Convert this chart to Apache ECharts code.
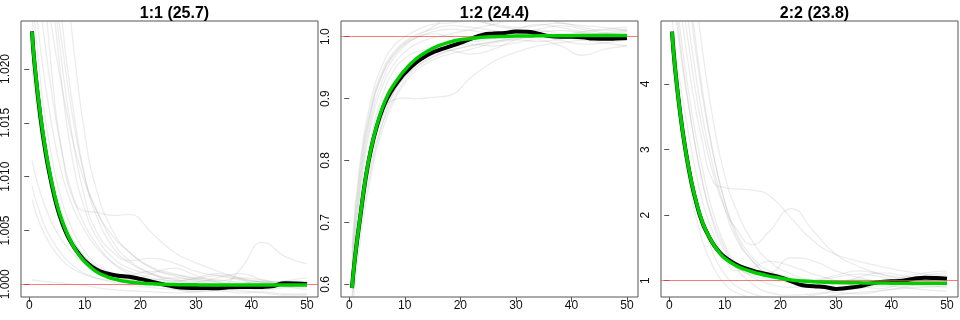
<!DOCTYPE html>
<html>
<head>
<meta charset="utf-8">
<script src="https://cdn.jsdelivr.net/npm/echarts@6/dist/echarts.min.js"></script>
<style>
  html, body { margin: 0; padding: 0; background: #fff; }
  #chart_box { width: 960px; height: 320px; }
</style>
</head>
<body>
<div id="chart_box"></div>
<script>
// panel titles
var titles = ['1:1 (25.7)', '1:2 (24.4)', '2:2 (23.8)'];

// x positions of the mean / fitted curves and of the single runs
var xFit = [0.5, 1, 2, 3, 4, 5, 6, 7, 8, 9, 10, 12, 14, 16, 18, 20, 22, 24, 26, 28, 30, 32, 34, 36, 38, 40, 42, 44, 46, 48, 50];
var xRun = [0.5, 2, 4, 6, 8, 10, 12, 15, 18, 22, 26, 30, 34, 38, 42, 46, 50];
var xTicks = [0, 10, 20, 30, 40, 50];

// ---- panel 1:1
var yTicks1 = [1.000, 1.005, 1.010, 1.015, 1.020];
var black1 = [1.0235, 1.0202, 1.0156, 1.0121, 1.0094, 1.0072, 1.0056, 1.0044, 1.0035, 1.0028, 1.0022,
  1.0014, 1.0010, 1.0008, 1.0007, 1.0005, 1.00025, 1.0000, 0.9998, 0.99968, 0.99966, 0.99965, 0.99963,
  0.99972, 0.99976, 0.99974, 0.99976, 0.99985, 1.0001, 1.00008, 1.0000];
var green1 = [1.02345, 1.0203, 1.0158, 1.0123, 1.0096, 1.0074, 1.0058, 1.0045, 1.0035, 1.0027, 1.0021,
  1.0012, 1.0007, 1.0004, 1.00022, 1.00011, 1.00004, 1.0000, 0.99998, 0.99996, 0.99995, 0.99994, 0.99994,
  0.99993, 0.99993, 0.99993, 0.99993, 0.99993, 0.99993, 0.99993, 0.99993];
var runs1 = [
  [1.040, 1.032, 1.024, 1.018, 1.013, 1.0095, 1.007, 1.004, 1.0022, 1.001, 1.0004, 1.0, 0.9998, 0.9999, 1.0001, 1.0, 1.0],
  [1.050, 1.040, 1.030, 1.022, 1.015, 1.010, 1.007, 1.0045, 1.003, 1.0015, 1.0008, 1.0004, 1.0003, 1.0006, 1.0004, 1.0002, 1.0002],
  [1.035, 1.026, 1.018, 1.012, 1.008, 1.0055, 1.0038, 1.002, 1.001, 1.0004, 1.0001, 0.9999, 0.9997, 0.9996, 0.9997, 0.9998, 0.9998],
  [1.030, 1.022, 1.015, 1.010, 1.007, 1.005, 1.0035, 1.002, 1.0012, 1.0006, 1.0003, 1.0005, 1.0008, 1.0005, 1.0002, 1.0003, 1.0003],
  [1.0115, 1.0085, 1.0058, 1.004, 1.0028, 1.0019, 1.0013, 1.0008, 1.0005, 1.0004, 1.0006, 1.0003, 0.9999, 0.9997, 0.9998, 1.0, 1.0001],
  [1.0092, 1.0065, 1.0042, 1.0027, 1.0017, 1.001, 1.0006, 1.0002, 0.9999, 0.9997, 0.9995, 0.9993, 0.9994, 0.9992, 0.9993, 0.9991, 0.9991],
  [1.0079, 1.0055, 1.0035, 1.0022, 1.0014, 1.0009, 1.0006, 1.0004, 1.0008, 1.0012, 1.0009, 1.0006, 1.0004, 1.0002, 1.0001, 1.0, 1.0],
  [1.0004, 1.0003, 1.0002, 1.0001, 1.0, 0.9999, 0.9997, 0.9995, 0.9994, 0.9993, 0.9992, 0.9993, 0.9995, 0.9994, 0.9992, 0.999, 0.999],
  [1.045, 1.033, 1.020, 1.012, 1.0078, 1.0068, 1.0067, 1.0064, 1.0065, 1.0048, 1.003, 1.002, 1.0012, 1.0006, 1.0002, 0.9998, 0.9997],
  [1.060, 1.045, 1.030, 1.020, 1.013, 1.008, 1.005, 1.003, 1.0022, 1.0024, 1.002, 1.0012, 1.0008, 1.0004, 1.0002, 1.0001, 1.0001],
  [1.028, 1.019, 1.012, 1.0075, 1.0048, 1.003, 1.0019, 1.001, 1.0005, 1.0002, 0.9999, 0.9997, 0.9998, 1.0014, 1.0039, 1.0026, 1.0019],
  [1.070, 1.052, 1.036, 1.024, 1.016, 1.010, 1.0065, 1.0035, 1.002, 1.001, 1.0003, 1.0006, 1.001, 1.0005, 0.9998, 1.0003, 1.0006],
  [1.020, 1.014, 1.009, 1.006, 1.004, 1.0026, 1.0017, 1.0009, 1.0004, 1.0, 0.9996, 0.9994, 0.9997, 1.0, 1.0003, 0.9998, 0.9995],
  [1.025, 1.017, 1.0105, 1.0065, 1.004, 1.0025, 1.0016, 1.0008, 1.0003, 1.001, 1.0015, 1.0008, 1.0002, 0.9998, 0.9995, 0.9997, 1.0],
  [1.055, 1.042, 1.028, 1.018, 1.011, 1.007, 1.0045, 1.0025, 1.0015, 1.0009, 1.0005, 1.0002, 1.0006, 1.001, 1.0004, 1.0, 0.9999],
  [1.090, 1.068, 1.046, 1.032, 1.022, 1.014, 1.009, 1.005, 1.003, 1.0016, 1.001, 1.0005, 1.0002, 1.0, 0.9999, 1.0, 1.0001]
];

// ---- panel 1:2
var yTicks2 = [0.6, 0.7, 0.8, 0.9, 1.0];
var black2 = [0.594, 0.640, 0.710, 0.774, 0.821, 0.856, 0.883, 0.903, 0.918, 0.930, 0.941,
  0.958, 0.970, 0.978, 0.984, 0.990, 0.997, 1.003, 1.005, 1.006, 1.0085, 1.008, 1.005,
  1.001, 1.000, 1.000, 0.999, 0.997, 0.9965, 0.997, 0.998];
var green2 = [0.594, 0.640, 0.711, 0.775, 0.822, 0.858, 0.886, 0.907, 0.922, 0.935, 0.946,
  0.964, 0.976, 0.985, 0.991, 0.995, 0.997, 0.999, 1.000, 1.0005, 1.001, 1.0012, 1.0014,
  1.0015, 1.0016, 1.0017, 1.0018, 1.0019, 1.002, 1.002, 1.002];
var runs2 = [
  [0.66, 0.80, 0.90, 0.955, 0.985, 1.000, 1.010, 1.020, 1.022, 1.025, 1.020, 1.015, 1.018, 1.022, 1.015, 1.010, 1.012],
  [0.62, 0.76, 0.87, 0.93, 0.965, 0.985, 0.998, 1.008, 1.012, 1.010, 1.005, 1.012, 1.020, 1.015, 1.008, 1.005, 1.008],
  [0.60, 0.72, 0.83, 0.88, 0.898, 0.901, 0.900, 0.902, 0.905, 0.935, 0.96, 0.975, 0.985, 0.990, 0.995, 1.000, 1.003],
  [0.57, 0.69, 0.79, 0.86, 0.91, 0.94, 0.96, 0.975, 0.982, 0.988, 0.985, 0.990, 0.995, 0.985, 0.970, 0.980, 0.985],
  [0.59, 0.71, 0.81, 0.87, 0.91, 0.935, 0.952, 0.968, 0.978, 0.985, 0.992, 0.998, 1.004, 1.000, 0.995, 0.990, 0.985],
  [0.64, 0.78, 0.885, 0.94, 0.97, 0.988, 0.998, 1.005, 1.000, 0.992, 0.998, 1.006, 1.010, 1.005, 1.000, 0.997, 0.994],
  [0.55, 0.67, 0.78, 0.85, 0.895, 0.925, 0.945, 0.962, 0.972, 0.980, 0.990, 0.995, 0.992, 0.996, 1.002, 1.006, 1.010],
  [0.61, 0.75, 0.86, 0.92, 0.955, 0.975, 0.988, 0.998, 1.004, 1.012, 1.020, 1.028, 1.030, 1.022, 1.018, 1.015, 1.010],
  [0.58, 0.70, 0.80, 0.86, 0.90, 0.93, 0.95, 0.966, 0.977, 0.986, 0.992, 0.997, 1.000, 1.003, 1.008, 1.012, 1.016],
  [0.63, 0.77, 0.88, 0.94, 0.972, 0.99, 1.000, 1.015, 1.030, 1.028, 1.018, 1.012, 1.008, 1.010, 1.006, 1.002, 1.000],
  [0.60, 0.73, 0.84, 0.905, 0.945, 0.965, 0.975, 0.980, 0.978, 0.972, 0.980, 0.995, 1.000, 0.994, 0.988, 0.990, 0.995],
  [0.65, 0.79, 0.89, 0.945, 0.975, 0.992, 1.003, 1.012, 1.018, 1.015, 1.010, 1.005, 1.012, 1.018, 1.012, 1.006, 1.002]
];

// ---- panel 2:2
var yTicks3 = [1, 2, 3, 4];
var black3 = [4.80, 4.29, 3.54, 2.96, 2.50, 2.15, 1.88, 1.70, 1.55, 1.44, 1.36,
  1.25, 1.18, 1.13, 1.09, 1.05, 0.99, 0.93, 0.915, 0.905, 0.875, 0.89, 0.91,
  0.95, 0.98, 0.99, 1.00, 1.03, 1.045, 1.04, 1.03];
var green3 = [4.80, 4.29, 3.54, 2.96, 2.51, 2.16, 1.89, 1.70, 1.55, 1.43, 1.34,
  1.23, 1.16, 1.11, 1.07, 1.04, 1.01, 0.995, 0.985, 0.978, 0.972, 0.969, 0.967,
  0.965, 0.964, 0.963, 0.962, 0.961, 0.96, 0.96, 0.96];
var runs3 = [
  [6.5, 5.2, 4.0, 3.1, 2.5, 2.42, 2.40, 2.38, 2.30, 1.95, 1.60, 1.40, 1.30, 1.22, 1.15, 1.10, 1.08],
  [7.0, 5.6, 4.3, 3.3, 2.6, 2.1, 1.8, 1.55, 1.75, 2.10, 1.75, 1.40, 1.22, 1.10, 1.05, 1.00, 0.98],
  [5.5, 4.5, 3.4, 2.5, 1.9, 1.5, 1.2, 0.95, 0.82, 0.78, 0.80, 0.85, 0.88, 0.92, 0.90, 0.86, 0.84],
  [4.6, 3.6, 2.6, 1.9, 1.4, 1.1, 0.92, 0.80, 0.74, 0.72, 0.74, 0.78, 0.82, 0.85, 0.88, 0.90, 0.92],
  [8.0, 6.5, 5.0, 3.8, 2.9, 2.2, 1.75, 1.35, 1.15, 1.05, 1.00, 0.95, 1.05, 1.12, 1.08, 1.00, 0.96],
  [6.0, 4.8, 3.6, 2.7, 2.0, 1.55, 1.25, 1.05, 0.95, 0.90, 0.92, 0.98, 1.02, 0.98, 1.05, 1.12, 1.15],
  [5.0, 4.0, 3.0, 2.2, 1.7, 1.35, 1.15, 1.20, 1.30, 1.22, 1.10, 1.00, 0.92, 0.88, 0.95, 1.02, 1.05],
  [9.0, 7.0, 5.2, 3.9, 2.9, 2.2, 1.70, 1.30, 1.10, 0.98, 0.92, 0.88, 0.90, 0.96, 1.02, 0.98, 0.93],
  [4.3, 3.3, 2.3, 1.6, 1.2, 0.95, 0.82, 0.74, 0.70, 0.72, 0.78, 0.82, 0.80, 0.84, 0.90, 0.95, 0.98],
  [7.5, 6.0, 4.6, 3.5, 2.7, 2.1, 1.65, 1.30, 1.12, 1.35, 1.30, 1.15, 1.05, 0.98, 0.94, 0.92, 0.90],
  [5.8, 4.6, 3.4, 2.5, 1.85, 1.45, 1.22, 1.08, 1.02, 0.98, 1.00, 1.05, 1.10, 1.06, 1.00, 1.08, 1.12],
  [10.0, 8.0, 6.0, 4.5, 3.4, 2.6, 2.1, 1.6, 1.30, 1.10, 1.02, 1.08, 1.15, 1.10, 1.02, 0.96, 0.95]
];

(function() {

    var FONT = 'Liberation Sans, Arial, Helvetica, sans-serif';

    var panels = [
        { title: titles[0], runs: runs1, black: black1, green: green1, yTicks: yTicks1, yMin: 0.99882, yMax: 1.02446, dec: 3 },
        { title: titles[1], runs: runs2, black: black2, green: green2, yTicks: yTicks2, yMin: 0.57948, yMax: 1.02536, dec: 1 },
        { title: titles[2], runs: runs3, black: black3, green: green3, yTicks: yTicks3, yMin: 0.7514, yMax: 4.961, dec: 0 }
    ];
    var lefts = [21, 341, 661];
    var plotW = 297, plotH = 276, plotTop = 21;

    function pairs(xs, ys) {
        return xs.map(function(x, i) { return [x, ys[i]]; });
    }

    var title = [], grid = [], xAxis = [], yAxis = [], series = [];

    panels.forEach(function(p, i) {
        title.push({
            text: p.title,
            left: lefts[i] + plotW / 2,
            top: 1,
            textAlign: 'center',
            textStyle: { fontFamily: FONT, fontWeight: 'bold', fontSize: 16, color: '#000' }
        });
        grid.push({
            left: lefts[i], top: plotTop, width: plotW, height: plotH,
            show: true, borderColor: '#555', borderWidth: 1, backgroundColor: '#fff'
        });
        xAxis.push({
            type: 'value', gridIndex: i, min: -1.48, max: 51.98,
            axisLine: { show: false },
            splitLine: { show: false },
            axisTick: { show: true, customValues: xTicks, length: 5, lineStyle: { color: '#555' } },
            axisLabel: { customValues: xTicks, margin: 3, fontSize: 12, fontFamily: FONT, color: '#111' }
        });
        yAxis.push({
            type: 'value', gridIndex: i, min: p.yMin, max: p.yMax,
            axisLine: { show: false },
            splitLine: { show: false },
            axisTick: { show: true, customValues: p.yTicks, length: 5, lineStyle: { color: '#555' } },
            axisLabel: {
                customValues: p.yTicks, rotate: 90, margin: 9, fontSize: 12, fontFamily: FONT, color: '#111',
                formatter: function(v) { return v.toFixed(p.dec); }
            }
        });

        // single runs in light grey
        p.runs.forEach(function(r, k) {
            var s = {
                type: 'line', xAxisIndex: i, yAxisIndex: i,
                data: pairs(xRun, r),
                showSymbol: false, smooth: true, silent: true, z: 2,
                lineStyle: { color: 'rgba(160,160,160,0.2)', width: 1.3 }
            };
            // reference line at 1
            if (k === p.runs.length - 1) {
                s.markLine = {
                    silent: true, symbol: 'none', label: { show: false },
                    lineStyle: { color: 'rgba(240,70,70,0.7)', width: 1, type: 'solid' },
                    data: [{ yAxis: 1 }]
                };
            }
            series.push(s);
        });

        // mean curve
        series.push({
            type: 'line', xAxisIndex: i, yAxisIndex: i,
            data: pairs(xFit, p.black),
            showSymbol: false, smooth: true, silent: true, z: 4,
            lineStyle: { color: '#000', width: 4 }
        });
        // fitted curve
        series.push({
            type: 'line', xAxisIndex: i, yAxisIndex: i,
            data: pairs(xFit, p.green),
            showSymbol: false, smooth: true, silent: true, z: 5,
            lineStyle: { color: '#00cd00', width: 3.5 }
        });
    });

    var myChart = echarts.init(document.getElementById('chart_box'));
    myChart.setOption({
        animation: false,
        backgroundColor: '#fff',
        title: title,
        grid: grid,
        xAxis: xAxis,
        yAxis: yAxis,
        series: series
    });
})();
</script>
</body>
</html>
